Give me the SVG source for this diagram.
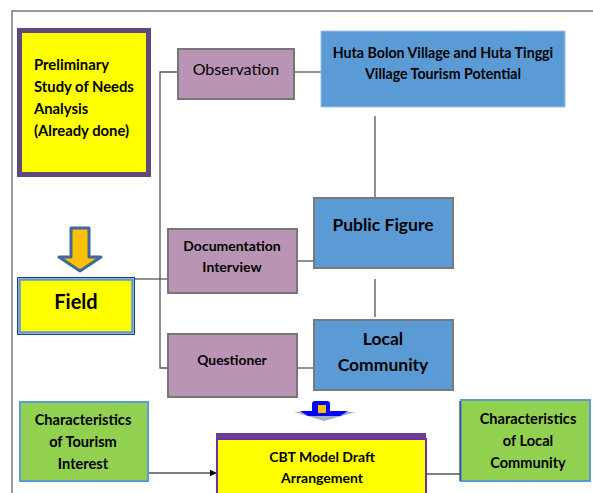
<svg xmlns="http://www.w3.org/2000/svg" width="593" height="493" viewBox="0 0 593 493">
  <defs>
    <marker id="arrow" viewBox="0 0 10 10" refX="9" refY="5" markerWidth="7" markerHeight="7" markerUnits="userSpaceOnUse" orient="auto">
      <path d="M0,0 L10,5 L0,10 z" fill="#000"/>
    </marker>
  </defs>
  <style>
    text { font-family: Lato, "Open Sans", "Liberation Sans", sans-serif; fill: #000; text-anchor: middle; dominant-baseline: central; }
    .b { font-weight: bold; }
    .frame { fill: none; stroke: #777; stroke-width: 1.5; }
    .wire { fill: none; stroke: #555; stroke-width: 1.3; }
    .mauve { fill: #b994b4; stroke: #777; stroke-width: 2; }
    .blue { fill: #5b9bd5; stroke: #7a7a7a; stroke-width: 2; }
    .green { fill: #92d050; stroke: #5b9bd5; stroke-width: 2; }
  </style>

  <rect width="593" height="493" fill="#fff"/>

  <!-- outer frame -->
  <path class="frame" d="M12,493 V11 H593"/>

  <!-- connectors -->
  <g id="connectors">
    <path class="wire" d="M177,72 H160 V368 H167"/>
    <path class="wire" d="M294,72 H321"/>
    <path class="wire" d="M375,116 V197"/>
    <path class="wire" d="M375,279 V317"/>
    <path class="wire" d="M135,279 H167"/>
    <path class="wire" d="M297,261 H313"/>
    <path class="wire" d="M297,368 H313"/>
    <path class="wire" d="M148,473 H216" marker-end="url(#arrow)"/>
    <path class="wire" d="M427,474 H460"/>
  </g>

  <!-- preliminary study -->
  <g id="preliminary">
    <rect x="19.5" y="30.5" width="129" height="144" fill="#ffff00" stroke="#5b4a7a" stroke-width="5"/>
    <text class="b" x="34" y="64" font-size="14.8" style="text-anchor:start">Preliminary</text>
    <text class="b" x="34" y="86" font-size="14.8" style="text-anchor:start">Study of Needs</text>
    <text class="b" x="34" y="108" font-size="14.8" style="text-anchor:start">Analysis</text>
    <text class="b" x="34" y="130" font-size="14.8" style="text-anchor:start">(Already done)</text>
  </g>

  <!-- observation -->
  <g id="observation">
    <rect class="mauve" x="178" y="49" width="116" height="50"/>
    <text x="236" y="68" font-size="16">Observation</text>
  </g>

  <!-- village tourism potential -->
  <g id="potential">
    <rect x="321" y="31" width="244" height="76" fill="#5b9bd5" stroke="#9dc3e6" stroke-width="1"/>
    <text class="b" x="443" y="52" font-size="14.2">Huta Bolon Village and Huta Tinggi</text>
    <text class="b" x="443" y="73" font-size="14.2">Village Tourism Potential</text>
  </g>

  <!-- public figure -->
  <g id="public-figure">
    <rect class="blue" x="314" y="198" width="139" height="70"/>
    <text class="b" x="383" y="224" font-size="17.5">Public Figure</text>
  </g>

  <!-- local community -->
  <g id="local-community">
    <rect class="blue" x="314" y="320" width="139" height="70"/>
    <text class="b" x="383" y="338" font-size="17.5">Local</text>
    <text class="b" x="383" y="364" font-size="17.5">Community</text>
  </g>

  <!-- documentation interview -->
  <g id="documentation">
    <rect class="mauve" x="168" y="229" width="129" height="64"/>
    <text class="b" x="232" y="245" font-size="14">Documentation</text>
    <text class="b" x="232" y="266" font-size="14">Interview</text>
  </g>

  <!-- questioner -->
  <g id="questioner">
    <rect class="mauve" x="168" y="334" width="129" height="63"/>
    <text class="b" x="232" y="359" font-size="13.8">Questioner</text>
  </g>

  <!-- down arrow into field -->
  <g id="field-arrow">
    <path d="M71,228 H89 V257 H101 L80,271 L59,257 H71 Z" fill="#ffc000" stroke="#3e6a9a" stroke-width="3" stroke-linejoin="round"/>
  </g>

  <!-- field -->
  <g id="field">
    <rect x="17.5" y="277.5" width="117" height="57" fill="none" stroke="#2f3f6a" stroke-width="1"/>
    <rect x="19.5" y="279.5" width="113" height="53" fill="#ffff00" stroke="#5b9bd5" stroke-width="2.5"/>
    <text class="b" x="76" y="301" font-size="20">Field</text>
  </g>

  <!-- tourism interest -->
  <g id="tourism-interest">
    <rect class="green" x="20" y="402" width="128" height="79"/>
    <text class="b" x="83" y="419" font-size="14.6">Characteristics</text>
    <text class="b" x="83" y="441" font-size="14.6">of Tourism</text>
    <text class="b" x="83" y="463" font-size="14.6">Interest</text>
  </g>

  <!-- arrow into CBT -->
  <g id="cbt-arrow">
    <path d="M294,412 H356 L324,421 Z" fill="#9fb3c8"/>
    <rect x="312" y="401" width="18" height="13" rx="3" fill="#0000ff"/>
    <path d="M300,411 H348 L340,416 H308 Z" fill="#0000ff"/>
    <rect x="318" y="405" width="8" height="8" fill="#ffc000"/>
  </g>

  <!-- CBT model draft -->
  <g id="cbt-draft">
    <rect x="216" y="433" width="210" height="6" fill="#6a3d8f"/>
    <rect x="217" y="439" width="209" height="60" fill="#ffff00" stroke="#7030a0" stroke-width="2"/>
    <text class="b" x="322" y="456" font-size="14">CBT Model Draft</text>
    <text class="b" x="322" y="477" font-size="14">Arrangement</text>
  </g>

  <!-- local community characteristics -->
  <g id="local-characteristics">
    <rect class="green" x="461" y="400" width="129" height="81"/>
    <path d="M460,401 V481" stroke="#333" stroke-width="1.2"/>
    <text class="b" x="528" y="418" font-size="14.6">Characteristics</text>
    <text class="b" x="528" y="440" font-size="14.6">of Local</text>
    <text class="b" x="528" y="462" font-size="14.6">Community</text>
  </g>
</svg>
